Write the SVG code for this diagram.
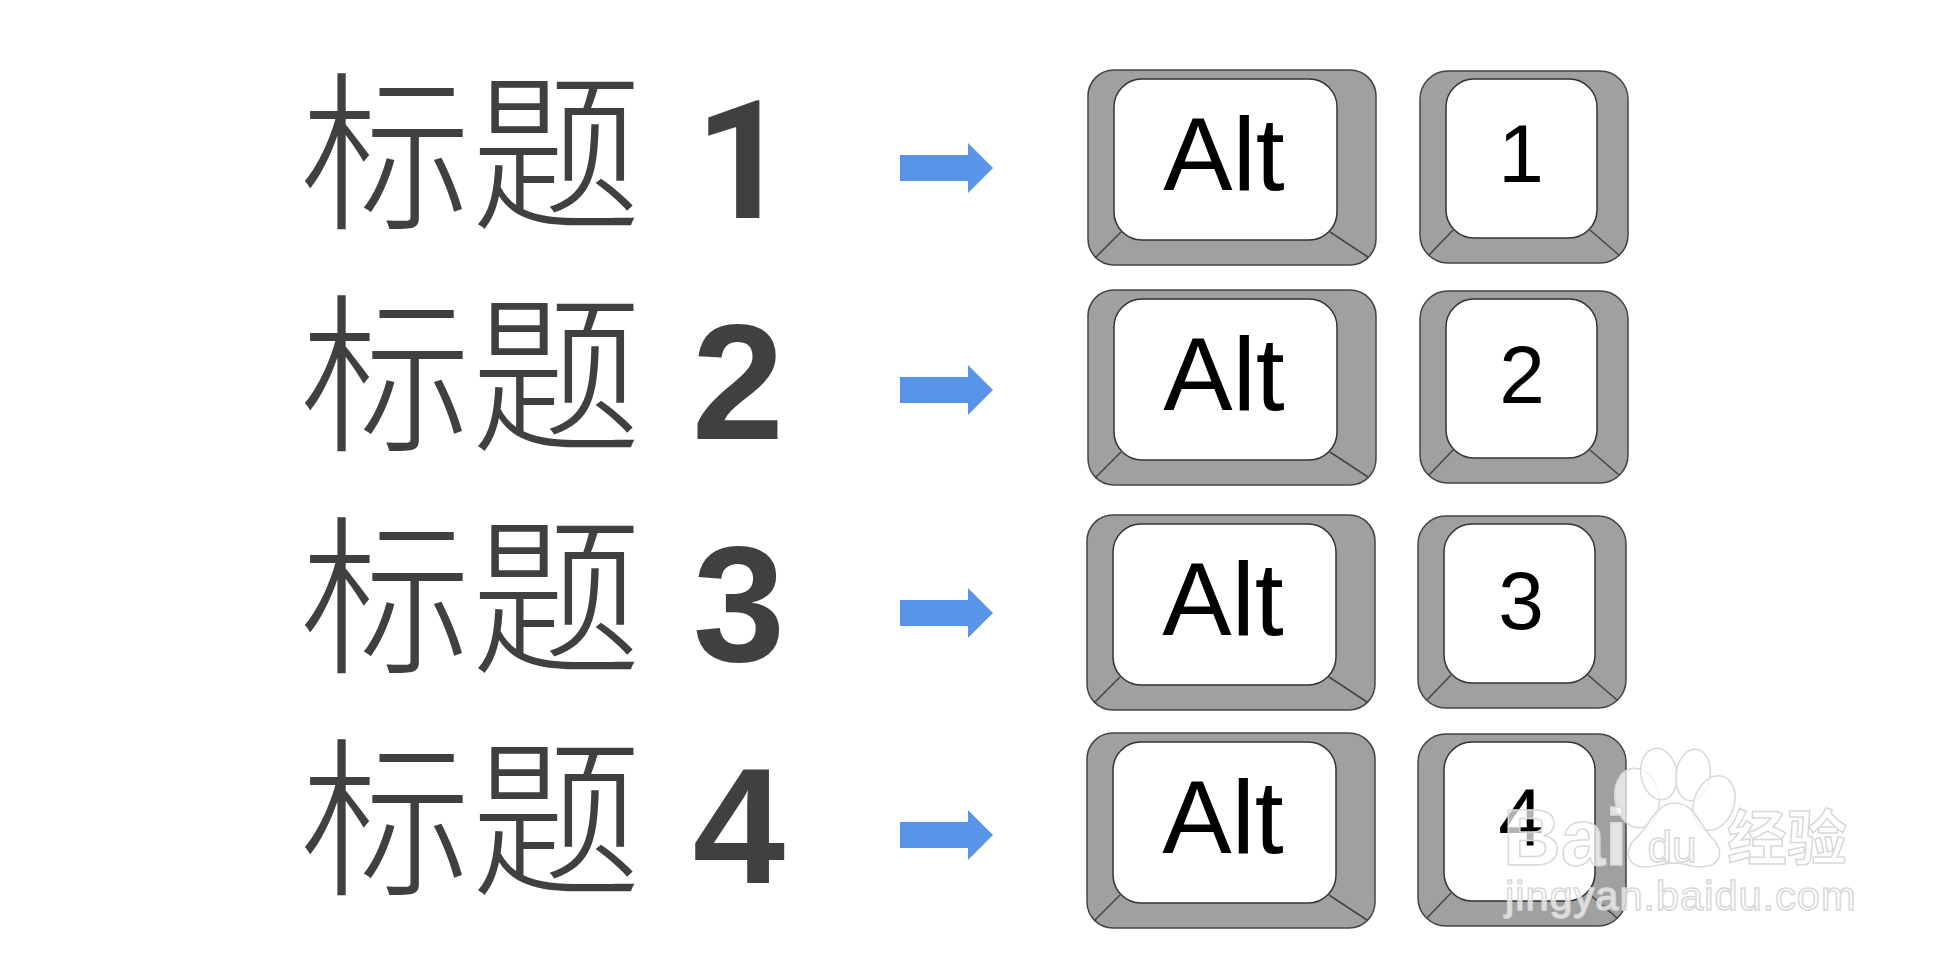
<svg xmlns="http://www.w3.org/2000/svg" width="1958" height="964" viewBox="0 0 1958 964">
<style>
.t{font-family:"Noto Sans CJK SC","Noto Sans CJK JP",sans-serif;font-weight:300;font-size:171px;fill:#404040}
.n{font-family:"Liberation Sans",Arial,sans-serif;font-weight:700;font-size:166px;fill:#404040;text-anchor:middle}
.r{font-family:Roboto,"Liberation Sans",sans-serif;font-weight:700;font-size:165px;fill:#404040;text-anchor:middle}
.k{font-family:"Liberation Sans",Arial,sans-serif;fill:#000;text-anchor:middle}
.a{font-size:104px}.d{font-size:82px}
.o{fill:#a0a0a0;stroke:#444;stroke-width:1.5}
.i{fill:#fff;stroke:#333;stroke-width:1.5}
.l{fill:none;stroke:#444;stroke-width:1.5}
.ar{fill:#5895e8}
.w{fill:#fff;fill-opacity:.7;stroke:#d8d8d8;stroke-width:1.5}
.wt{font-family:"Liberation Sans",Arial,sans-serif}
.wc{font-family:"Noto Sans CJK SC",sans-serif}
</style>
<defs>
<g id="wide">
<rect class="o" x="1088" y="70" width="288" height="195" rx="26"/>
<path class="l" d="M1121 232L1095 258M1330 232L1368 257"/>
<rect class="i" x="1114" y="79" width="223" height="161" rx="28"/>
</g>
<g id="small">
<rect class="o" x="1420" y="71" width="208" height="192" rx="28"/>
<path class="l" d="M1453 230L1429 255M1590 230L1619 255"/>
<rect class="i" x="1446" y="79" width="151" height="159" rx="28"/>
</g>
<polygon id="arr" class="ar" points="900,155 968,155 968,143 993,168 968,193 968,181 900,181"/>
</defs>
<rect width="1958" height="964" fill="#fff"/>
<g id="connectors">
<use href="#arr"/>
<use href="#arr" y="222"/>
<use href="#arr" y="445"/>
<use href="#arr" y="667"/>
</g>
<g id="title1"><text class="t" x="300" y="216">标题</text><text class="r" x="742" y="218">1</text></g>
<g id="title2"><text class="t" x="300" y="438">标题</text><text class="n" x="738" y="439">2</text></g>
<g id="title3"><text class="t" x="300" y="660">标题</text><text class="n" x="739" y="661">3</text></g>
<g id="title4"><text class="t" x="300" y="882">标题</text><text class="n" x="739" y="883">4</text></g>
<g id="alt1"><use href="#wide"/><text class="k a" x="1224" y="190">Alt</text></g>
<g id="key1"><use href="#small"/><text class="k d" x="1521" y="182">1</text></g>
<g id="alt2"><use href="#wide" y="220"/><text class="k a" x="1224" y="410">Alt</text></g>
<g id="key2"><use href="#small" y="220"/><text class="k d" x="1522" y="403">2</text></g>
<g id="alt3" transform="translate(-1 445)"><use href="#wide"/><text class="k a" x="1224" y="190">Alt</text></g>
<g id="key3" transform="translate(-2 445)"><use href="#small"/><text class="k d" x="1523" y="184">3</text></g>
<g id="alt4" transform="translate(-1 663)"><use href="#wide"/><text class="k a" x="1224" y="190">Alt</text></g>
<g id="key4" transform="translate(-2 663)"><use href="#small"/><text class="k d" x="1523" y="183">4</text></g>
<g id="watermark">
<ellipse class="w" cx="1637" cy="798" rx="22" ry="30" transform="rotate(-10 1637 798)"/>
<ellipse class="w" cx="1659" cy="774" rx="18" ry="26" transform="rotate(-10 1659 774)"/>
<ellipse class="w" cx="1693" cy="775" rx="17" ry="26" transform="rotate(8 1693 775)"/>
<ellipse class="w" cx="1714" cy="803" rx="20" ry="28" transform="rotate(20 1714 803)"/>
<path class="w" d="M1675 803C1695 803 1700 826 1712 838C1726 852 1720 867 1700 867C1690 867 1685 863 1675 863C1663 863 1655 867 1645 867C1628 867 1622 852 1636 838C1650 826 1655 803 1675 803Z"/>
<text class="w wt" x="1672" y="862" font-size="44" font-weight="400" text-anchor="middle">du</text>
<text class="w wt" x="1503" y="865" font-size="80" font-weight="700">Bai</text>
<text class="w wc" x="1727" y="860" font-size="60" font-weight="700">经验</text>
<text class="w wt" x="1505" y="910" font-size="41.5" letter-spacing="1">jingyan.baidu.com</text>
</g>
</svg>
